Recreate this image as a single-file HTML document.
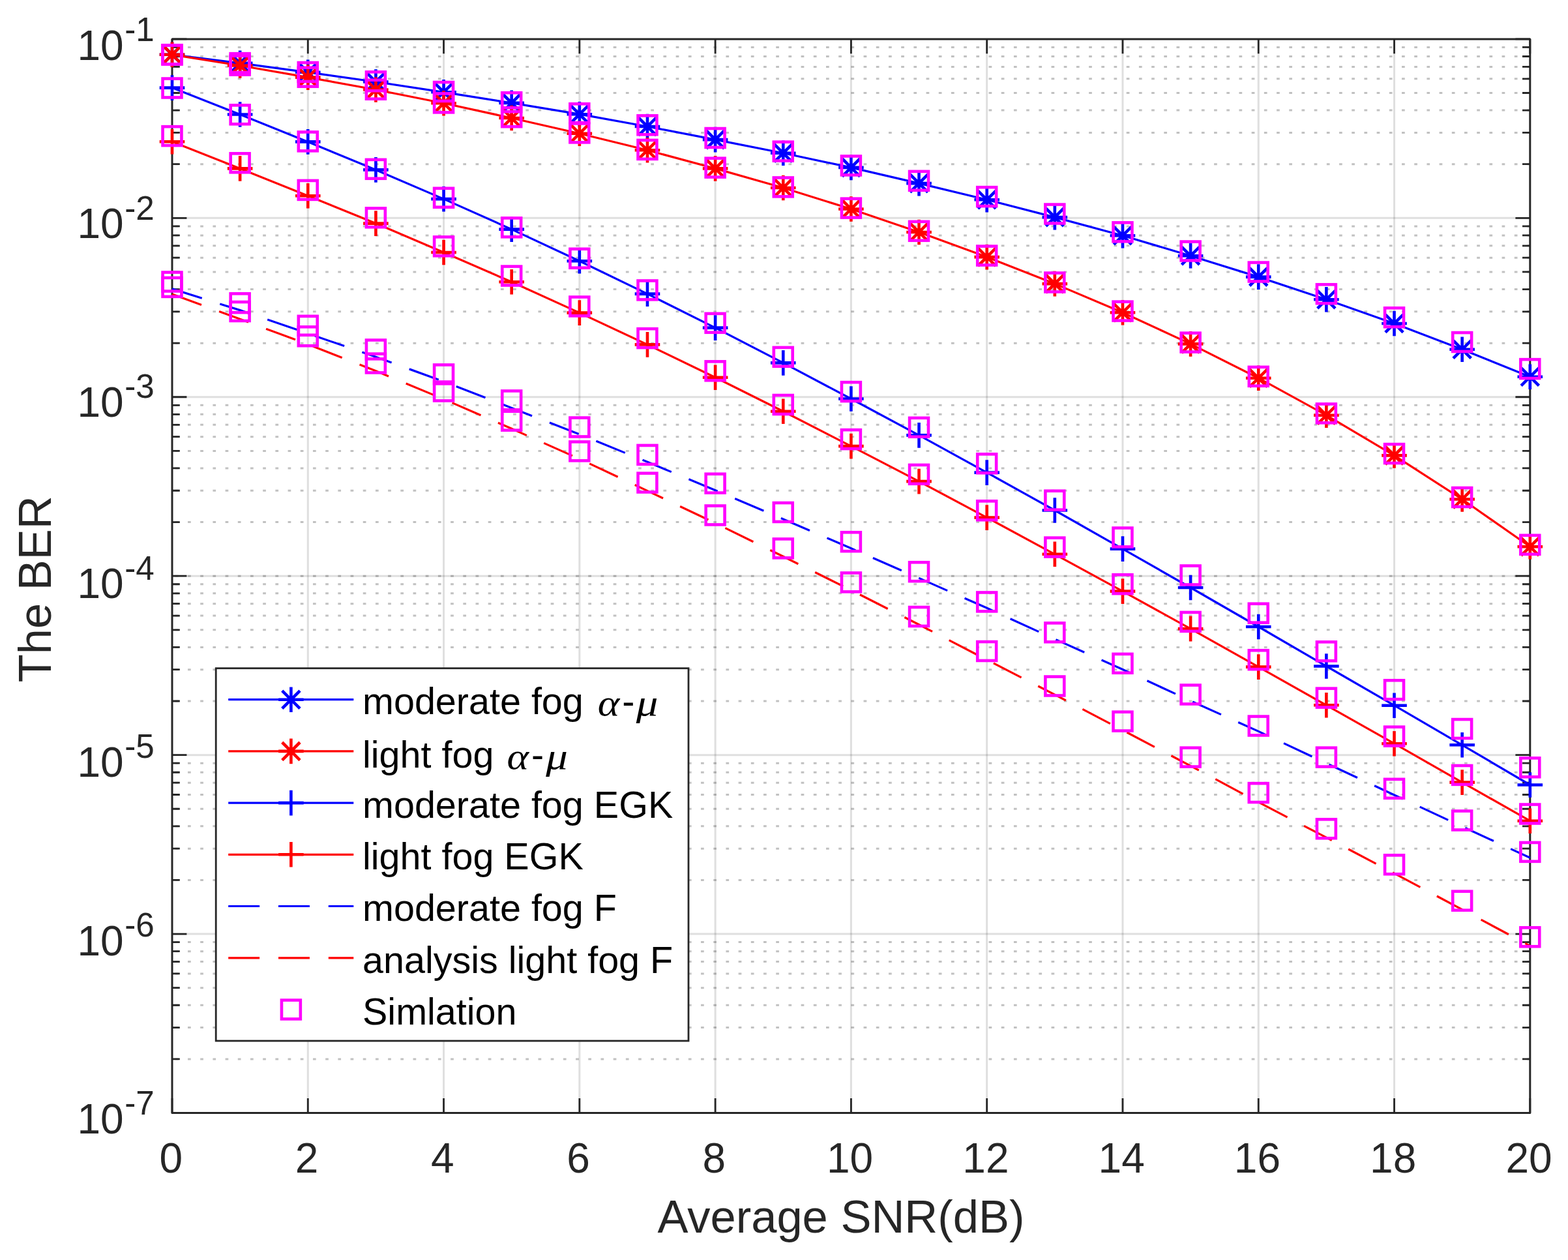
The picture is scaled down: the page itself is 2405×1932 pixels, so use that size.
<!DOCTYPE html>
<html lang="en">
<head>
<meta charset="utf-8">
<title>The BER versus Average SNR(dB)</title>
<style>
html,body{margin:0;padding:0;background:#fff;}
body{width:2405px;height:1932px;overflow:hidden;}
svg{display:block;}
text{font-family:"Liberation Sans",sans-serif;}
.tk{font-size:64px;fill:#262626;}
.ex{font-size:51.2px;fill:#262626;}
.lb{font-size:70.5px;fill:#262626;}
.lg{font-size:57.5px;fill:#000;}
.mi{font-family:"Liberation Serif","DejaVu Serif",serif;font-style:italic;font-size:56px;fill:#000;}
</style>
</head>
<body>
<svg width="2405" height="1932" viewBox="0 0 2405 1932">
<rect x="0" y="0" width="2405" height="1932" fill="#ffffff"/>
<defs>
<g id="plus"><path d="M-19.30 0H19.30M0 -19.30V19.30" fill="none" stroke-width="4.60"/></g>
<g id="ast"><path d="M-19.30 0H19.30M0 -19.30V19.30M-13.65 -13.65L13.65 13.65M-13.65 13.65L13.65 -13.65" fill="none" stroke-width="4.60"/></g>
<rect id="sq" x="-14.45" y="-14.45" width="28.90" height="28.90" fill="none" stroke="#ff00ff" stroke-width="4.60"/>
</defs>
<g id="grid" fill="none">
<path d="M264.0 72.46H2346.8M264.0 86.50H2346.8M264.0 102.41H2346.8M264.0 120.78H2346.8M264.0 142.51H2346.8M264.0 169.11H2346.8M264.0 203.40H2346.8M264.0 251.72H2346.8M264.0 346.89H2346.8M264.0 360.93H2346.8M264.0 376.84H2346.8M264.0 395.22H2346.8M264.0 416.95H2346.8M264.0 443.54H2346.8M264.0 477.83H2346.8M264.0 526.15H2346.8M264.0 621.32H2346.8M264.0 635.36H2346.8M264.0 651.28H2346.8M264.0 669.65H2346.8M264.0 691.38H2346.8M264.0 717.97H2346.8M264.0 752.26H2346.8M264.0 800.59H2346.8M264.0 895.76H2346.8M264.0 909.80H2346.8M264.0 925.71H2346.8M264.0 944.08H2346.8M264.0 965.81H2346.8M264.0 992.41H2346.8M264.0 1026.70H2346.8M264.0 1075.02H2346.8M264.0 1170.19H2346.8M264.0 1184.23H2346.8M264.0 1200.14H2346.8M264.0 1218.52H2346.8M264.0 1240.25H2346.8M264.0 1266.84H2346.8M264.0 1301.13H2346.8M264.0 1349.45H2346.8M264.0 1444.62H2346.8M264.0 1458.66H2346.8M264.0 1474.58H2346.8M264.0 1492.95H2346.8M264.0 1514.68H2346.8M264.0 1541.27H2346.8M264.0 1575.56H2346.8M264.0 1623.89H2346.8M264.0 883.20H2346.8" stroke="#1a1a1a" stroke-opacity="0.27" stroke-width="3.0" stroke-dasharray="4.700 14.496" stroke-dashoffset="-4.82"/>
<path d="M472.28 59.9V1706.5M680.56 59.9V1706.5M888.84 59.9V1706.5M1097.12 59.9V1706.5M1305.40 59.9V1706.5M1513.68 59.9V1706.5M1721.96 59.9V1706.5M1930.24 59.9V1706.5M2138.52 59.9V1706.5" stroke="#262626" stroke-opacity="0.15" stroke-width="3.0"/>
<path d="M264.0 334.33H2346.8M264.0 608.77H2346.8M264.0 883.20H2346.8M264.0 1157.63H2346.8M264.0 1432.07H2346.8" stroke="#262626" stroke-opacity="0.15" stroke-width="3.0"/>
</g>
<g id="axes" fill="none" stroke-linejoin="round" stroke="#262626" stroke-width="3.0">
<rect x="264.00" y="59.90" width="2082.80" height="1646.60"/>
<path d="M264.00 1706.50V1684.10M264.00 59.90V82.30M472.28 1706.50V1684.10M472.28 59.90V82.30M680.56 1706.50V1684.10M680.56 59.90V82.30M888.84 1706.50V1684.10M888.84 59.90V82.30M1097.12 1706.50V1684.10M1097.12 59.90V82.30M1305.40 1706.50V1684.10M1305.40 59.90V82.30M1513.68 1706.50V1684.10M1513.68 59.90V82.30M1721.96 1706.50V1684.10M1721.96 59.90V82.30M1930.24 1706.50V1684.10M1930.24 59.90V82.30M2138.52 1706.50V1684.10M2138.52 59.90V82.30M2346.80 1706.50V1684.10M2346.80 59.90V82.30M264.00 59.90H286.40M2346.80 59.90H2324.40M264.00 334.33H286.40M2346.80 334.33H2324.40M264.00 608.77H286.40M2346.80 608.77H2324.40M264.00 883.20H286.40M2346.80 883.20H2324.40M264.00 1157.63H286.40M2346.80 1157.63H2324.40M264.00 1432.07H286.40M2346.80 1432.07H2324.40M264.00 1706.50H286.40M2346.80 1706.50H2324.40M264.00 72.46H275.80M2346.80 72.46H2335.00M264.00 86.50H275.80M2346.80 86.50H2335.00M264.00 102.41H275.80M2346.80 102.41H2335.00M264.00 120.78H275.80M2346.80 120.78H2335.00M264.00 142.51H275.80M2346.80 142.51H2335.00M264.00 169.11H275.80M2346.80 169.11H2335.00M264.00 203.40H275.80M2346.80 203.40H2335.00M264.00 251.72H275.80M2346.80 251.72H2335.00M264.00 346.89H275.80M2346.80 346.89H2335.00M264.00 360.93H275.80M2346.80 360.93H2335.00M264.00 376.84H275.80M2346.80 376.84H2335.00M264.00 395.22H275.80M2346.80 395.22H2335.00M264.00 416.95H275.80M2346.80 416.95H2335.00M264.00 443.54H275.80M2346.80 443.54H2335.00M264.00 477.83H275.80M2346.80 477.83H2335.00M264.00 526.15H275.80M2346.80 526.15H2335.00M264.00 621.32H275.80M2346.80 621.32H2335.00M264.00 635.36H275.80M2346.80 635.36H2335.00M264.00 651.28H275.80M2346.80 651.28H2335.00M264.00 669.65H275.80M2346.80 669.65H2335.00M264.00 691.38H275.80M2346.80 691.38H2335.00M264.00 717.97H275.80M2346.80 717.97H2335.00M264.00 752.26H275.80M2346.80 752.26H2335.00M264.00 800.59H275.80M2346.80 800.59H2335.00M264.00 895.76H275.80M2346.80 895.76H2335.00M264.00 909.80H275.80M2346.80 909.80H2335.00M264.00 925.71H275.80M2346.80 925.71H2335.00M264.00 944.08H275.80M2346.80 944.08H2335.00M264.00 965.81H275.80M2346.80 965.81H2335.00M264.00 992.41H275.80M2346.80 992.41H2335.00M264.00 1026.70H275.80M2346.80 1026.70H2335.00M264.00 1075.02H275.80M2346.80 1075.02H2335.00M264.00 1170.19H275.80M2346.80 1170.19H2335.00M264.00 1184.23H275.80M2346.80 1184.23H2335.00M264.00 1200.14H275.80M2346.80 1200.14H2335.00M264.00 1218.52H275.80M2346.80 1218.52H2335.00M264.00 1240.25H275.80M2346.80 1240.25H2335.00M264.00 1266.84H275.80M2346.80 1266.84H2335.00M264.00 1301.13H275.80M2346.80 1301.13H2335.00M264.00 1349.45H275.80M2346.80 1349.45H2335.00M264.00 1444.62H275.80M2346.80 1444.62H2335.00M264.00 1458.66H275.80M2346.80 1458.66H2335.00M264.00 1474.58H275.80M2346.80 1474.58H2335.00M264.00 1492.95H275.80M2346.80 1492.95H2335.00M264.00 1514.68H275.80M2346.80 1514.68H2335.00M264.00 1541.27H275.80M2346.80 1541.27H2335.00M264.00 1575.56H275.80M2346.80 1575.56H2335.00M264.00 1623.89H275.80M2346.80 1623.89H2335.00" stroke-width="2.8"/>
</g>
<g id="xticks" class="tk" text-anchor="middle">
<text x="262.2" y="1797.5">0</text><text x="470.5" y="1797.5">2</text><text x="678.8" y="1797.5">4</text><text x="887.0" y="1797.5">6</text><text x="1095.3" y="1797.5">8</text><text x="1303.6" y="1797.5">10</text><text x="1511.9" y="1797.5">12</text><text x="1720.2" y="1797.5">14</text><text x="1928.4" y="1797.5">16</text><text x="2136.7" y="1797.5">18</text><text x="2345.0" y="1797.5">20</text>
</g>
<g id="yticks">
<text class="tk" x="118.5" y="92.0">10<tspan class="ex" dx="1.6" dy="-28.8">-1</tspan></text>
<text class="tk" x="118.5" y="365.3">10<tspan class="ex" dx="1.6" dy="-28.8">-2</tspan></text>
<text class="tk" x="118.5" y="638.8">10<tspan class="ex" dx="1.6" dy="-28.8">-3</tspan></text>
<text class="tk" x="118.5" y="917.4">10<tspan class="ex" dx="1.6" dy="-28.8">-4</tspan></text>
<text class="tk" x="118.5" y="1191.0">10<tspan class="ex" dx="1.6" dy="-28.8">-5</tspan></text>
<text class="tk" x="118.5" y="1464.7">10<tspan class="ex" dx="1.6" dy="-28.8">-6</tspan></text>
<text class="tk" x="118.5" y="1738.1">10<tspan class="ex" dx="1.6" dy="-28.8">-7</tspan></text>
</g>
<text class="lb" x="1008.5" y="1889.6">Average SNR(dB)</text>
<text class="lb" transform="translate(78.2,1046.3) rotate(-90)">The BER</text>
<g id="curves" fill="none" stroke-width="3.20" stroke-linejoin="round">
<path d="M264.00 83.80L368.14 96.90L472.28 110.80L576.42 125.50L680.56 141.30L784.70 157.90L888.84 175.20L992.98 194.00L1097.12 214.10L1201.26 234.70L1305.40 256.90L1409.54 281.10L1513.68 306.30L1617.82 333.10L1721.96 361.30L1826.10 392.20L1930.24 424.60L2034.38 459.30L2138.52 496.00L2242.66 535.80L2346.80 577.80" stroke="#0000ff"/>
<g stroke="#0000ff"><use href="#ast" x="264.00" y="83.80"/><use href="#ast" x="368.14" y="96.90"/><use href="#ast" x="472.28" y="110.80"/><use href="#ast" x="576.42" y="125.50"/><use href="#ast" x="680.56" y="141.30"/><use href="#ast" x="784.70" y="157.90"/><use href="#ast" x="888.84" y="175.20"/><use href="#ast" x="992.98" y="194.00"/><use href="#ast" x="1097.12" y="214.10"/><use href="#ast" x="1201.26" y="234.70"/><use href="#ast" x="1305.40" y="256.90"/><use href="#ast" x="1409.54" y="281.10"/><use href="#ast" x="1513.68" y="306.30"/><use href="#ast" x="1617.82" y="333.10"/><use href="#ast" x="1721.96" y="361.30"/><use href="#ast" x="1826.10" y="392.20"/><use href="#ast" x="1930.24" y="424.60"/><use href="#ast" x="2034.38" y="459.30"/><use href="#ast" x="2138.52" y="496.00"/><use href="#ast" x="2242.66" y="535.80"/><use href="#ast" x="2346.80" y="577.80"/></g>
<path d="M264.00 83.80L368.14 100.50L472.28 118.60L576.42 137.50L680.56 158.30L784.70 181.00L888.84 204.80L992.98 230.30L1097.12 258.40L1201.26 288.00L1305.40 320.50L1409.54 356.00L1513.68 394.10L1617.82 435.10L1721.96 479.20L1826.10 527.40L1930.24 579.70L2034.38 636.70L2138.52 698.40L2242.66 765.50L2346.80 838.30" stroke="#ff0000"/>
<g stroke="#ff0000"><use href="#ast" x="264.00" y="83.80"/><use href="#ast" x="368.14" y="100.50"/><use href="#ast" x="472.28" y="118.60"/><use href="#ast" x="576.42" y="137.50"/><use href="#ast" x="680.56" y="158.30"/><use href="#ast" x="784.70" y="181.00"/><use href="#ast" x="888.84" y="204.80"/><use href="#ast" x="992.98" y="230.30"/><use href="#ast" x="1097.12" y="258.40"/><use href="#ast" x="1201.26" y="288.00"/><use href="#ast" x="1305.40" y="320.50"/><use href="#ast" x="1409.54" y="356.00"/><use href="#ast" x="1513.68" y="394.10"/><use href="#ast" x="1617.82" y="435.10"/><use href="#ast" x="1721.96" y="479.20"/><use href="#ast" x="1826.10" y="527.40"/><use href="#ast" x="1930.24" y="579.70"/><use href="#ast" x="2034.38" y="636.70"/><use href="#ast" x="2138.52" y="698.40"/><use href="#ast" x="2242.66" y="765.50"/><use href="#ast" x="2346.80" y="838.30"/></g>
<path d="M264.00 134.60L368.14 175.50L472.28 217.40L576.42 260.40L680.56 305.10L784.70 351.60L888.84 400.30L992.98 450.60L1097.12 502.60L1201.26 556.40L1305.40 611.50L1409.54 667.40L1513.68 724.60L1617.82 782.50L1721.96 841.60L1826.10 901.00L1930.24 961.00L2034.38 1021.50L2138.52 1081.70L2242.66 1142.30L2346.80 1203.50" stroke="#0000ff"/>
<g stroke="#0000ff"><use href="#plus" x="264.00" y="134.60"/><use href="#plus" x="368.14" y="175.50"/><use href="#plus" x="472.28" y="217.40"/><use href="#plus" x="576.42" y="260.40"/><use href="#plus" x="680.56" y="305.10"/><use href="#plus" x="784.70" y="351.60"/><use href="#plus" x="888.84" y="400.30"/><use href="#plus" x="992.98" y="450.60"/><use href="#plus" x="1097.12" y="502.60"/><use href="#plus" x="1201.26" y="556.40"/><use href="#plus" x="1305.40" y="611.50"/><use href="#plus" x="1409.54" y="667.40"/><use href="#plus" x="1513.68" y="724.60"/><use href="#plus" x="1617.82" y="782.50"/><use href="#plus" x="1721.96" y="841.60"/><use href="#plus" x="1826.10" y="901.00"/><use href="#plus" x="1930.24" y="961.00"/><use href="#plus" x="2034.38" y="1021.50"/><use href="#plus" x="2138.52" y="1081.70"/><use href="#plus" x="2242.66" y="1142.30"/><use href="#plus" x="2346.80" y="1203.50"/></g>
<path d="M264.00 217.20L368.14 258.40L472.28 300.20L576.42 342.60L680.56 387.00L784.70 432.30L888.84 479.60L992.98 528.40L1097.12 578.70L1201.26 630.70L1305.40 684.10L1409.54 738.10L1513.68 793.60L1617.82 849.80L1721.96 906.60L1826.10 964.10L1930.24 1022.60L2034.38 1081.30L2138.52 1140.20L2242.66 1199.60L2346.80 1258.70" stroke="#ff0000"/>
<g stroke="#ff0000"><use href="#plus" x="264.00" y="217.20"/><use href="#plus" x="368.14" y="258.40"/><use href="#plus" x="472.28" y="300.20"/><use href="#plus" x="576.42" y="342.60"/><use href="#plus" x="680.56" y="387.00"/><use href="#plus" x="784.70" y="432.30"/><use href="#plus" x="888.84" y="479.60"/><use href="#plus" x="992.98" y="528.40"/><use href="#plus" x="1097.12" y="578.70"/><use href="#plus" x="1201.26" y="630.70"/><use href="#plus" x="1305.40" y="684.10"/><use href="#plus" x="1409.54" y="738.10"/><use href="#plus" x="1513.68" y="793.60"/><use href="#plus" x="1617.82" y="849.80"/><use href="#plus" x="1721.96" y="906.60"/><use href="#plus" x="1826.10" y="964.10"/><use href="#plus" x="1930.24" y="1022.60"/><use href="#plus" x="2034.38" y="1081.30"/><use href="#plus" x="2138.52" y="1140.20"/><use href="#plus" x="2242.66" y="1199.60"/><use href="#plus" x="2346.80" y="1258.70"/></g>
<path d="M264.00 442.90L368.14 475.60L472.28 511.30L576.42 547.30L680.56 585.00L784.70 625.50L888.84 665.90L992.98 708.30L1097.12 751.70L1201.26 796.00L1305.40 840.80L1409.54 886.40L1513.68 932.30L1617.82 979.90L1721.96 1026.50L1826.10 1074.60L1930.24 1121.40L2034.38 1170.30L2138.52 1219.00L2242.66 1267.30L2346.80 1315.30" stroke="#0000ff" stroke-dasharray="47.95 28.85"/>
<path d="M264.00 451.00L368.14 489.30L472.28 528.00L576.42 568.80L680.56 612.00L784.70 657.30L888.84 703.70L992.98 752.60L1097.12 802.10L1201.26 853.30L1305.40 904.90L1409.54 957.80L1513.68 1011.70L1617.82 1065.10L1721.96 1119.60L1826.10 1174.30L1930.24 1230.00L2034.38 1284.20L2138.52 1339.10L2242.66 1394.70L2346.80 1450.30" stroke="#ff0000" stroke-dasharray="47.95 28.85"/>
</g>
<g id="sim">
<use href="#sq" x="264.00" y="83.90"/><use href="#sq" x="368.14" y="96.60"/><use href="#sq" x="472.28" y="110.50"/><use href="#sq" x="576.42" y="124.80"/><use href="#sq" x="680.56" y="140.50"/><use href="#sq" x="784.70" y="156.70"/><use href="#sq" x="888.84" y="173.70"/><use href="#sq" x="992.98" y="191.80"/><use href="#sq" x="1097.12" y="211.50"/><use href="#sq" x="1201.26" y="232.10"/><use href="#sq" x="1305.40" y="253.90"/><use href="#sq" x="1409.54" y="277.30"/><use href="#sq" x="1513.68" y="301.60"/><use href="#sq" x="1617.82" y="328.00"/><use href="#sq" x="1721.96" y="355.80"/><use href="#sq" x="1826.10" y="385.00"/><use href="#sq" x="1930.24" y="417.00"/><use href="#sq" x="2034.38" y="450.70"/><use href="#sq" x="2138.52" y="486.70"/><use href="#sq" x="2242.66" y="524.50"/><use href="#sq" x="2346.80" y="565.60"/>
<use href="#sq" x="264.00" y="83.90"/><use href="#sq" x="368.14" y="100.10"/><use href="#sq" x="472.28" y="118.20"/><use href="#sq" x="576.42" y="137.20"/><use href="#sq" x="680.56" y="157.90"/><use href="#sq" x="784.70" y="179.70"/><use href="#sq" x="888.84" y="203.90"/><use href="#sq" x="992.98" y="229.40"/><use href="#sq" x="1097.12" y="257.10"/><use href="#sq" x="1201.26" y="286.90"/><use href="#sq" x="1305.40" y="319.10"/><use href="#sq" x="1409.54" y="354.30"/><use href="#sq" x="1513.68" y="392.00"/><use href="#sq" x="1617.82" y="433.00"/><use href="#sq" x="1721.96" y="477.10"/><use href="#sq" x="1826.10" y="525.10"/><use href="#sq" x="1930.24" y="577.30"/><use href="#sq" x="2034.38" y="633.90"/><use href="#sq" x="2138.52" y="695.60"/><use href="#sq" x="2242.66" y="762.50"/><use href="#sq" x="2346.80" y="835.30"/>
<use href="#sq" x="264.00" y="135.00"/><use href="#sq" x="368.14" y="175.80"/><use href="#sq" x="472.28" y="216.90"/><use href="#sq" x="576.42" y="259.30"/><use href="#sq" x="680.56" y="303.20"/><use href="#sq" x="784.70" y="348.80"/><use href="#sq" x="888.84" y="396.20"/><use href="#sq" x="992.98" y="444.90"/><use href="#sq" x="1097.12" y="495.30"/><use href="#sq" x="1201.26" y="547.30"/><use href="#sq" x="1305.40" y="600.60"/><use href="#sq" x="1409.54" y="655.30"/><use href="#sq" x="1513.68" y="710.80"/><use href="#sq" x="1617.82" y="767.20"/><use href="#sq" x="1721.96" y="824.00"/><use href="#sq" x="1826.10" y="882.00"/><use href="#sq" x="1930.24" y="940.20"/><use href="#sq" x="2034.38" y="998.80"/><use href="#sq" x="2138.52" y="1057.70"/><use href="#sq" x="2242.66" y="1117.50"/><use href="#sq" x="2346.80" y="1176.80"/>
<use href="#sq" x="264.00" y="208.60"/><use href="#sq" x="368.14" y="249.80"/><use href="#sq" x="472.28" y="291.40"/><use href="#sq" x="576.42" y="333.80"/><use href="#sq" x="680.56" y="377.80"/><use href="#sq" x="784.70" y="423.00"/><use href="#sq" x="888.84" y="469.90"/><use href="#sq" x="992.98" y="518.60"/><use href="#sq" x="1097.12" y="568.80"/><use href="#sq" x="1201.26" y="620.50"/><use href="#sq" x="1305.40" y="673.60"/><use href="#sq" x="1409.54" y="727.40"/><use href="#sq" x="1513.68" y="782.80"/><use href="#sq" x="1617.82" y="839.10"/><use href="#sq" x="1721.96" y="895.70"/><use href="#sq" x="1826.10" y="953.40"/><use href="#sq" x="1930.24" y="1011.70"/><use href="#sq" x="2034.38" y="1070.10"/><use href="#sq" x="2138.52" y="1129.10"/><use href="#sq" x="2242.66" y="1188.40"/><use href="#sq" x="2346.80" y="1248.00"/>
<use href="#sq" x="264.00" y="432.00"/><use href="#sq" x="368.14" y="464.70"/><use href="#sq" x="472.28" y="499.30"/><use href="#sq" x="576.42" y="535.90"/><use href="#sq" x="680.56" y="573.90"/><use href="#sq" x="784.70" y="613.90"/><use href="#sq" x="888.84" y="655.00"/><use href="#sq" x="992.98" y="697.40"/><use href="#sq" x="1097.12" y="741.20"/><use href="#sq" x="1201.26" y="785.50"/><use href="#sq" x="1305.40" y="830.70"/><use href="#sq" x="1409.54" y="876.70"/><use href="#sq" x="1513.68" y="922.90"/><use href="#sq" x="1617.82" y="969.80"/><use href="#sq" x="1721.96" y="1017.30"/><use href="#sq" x="1826.10" y="1065.00"/><use href="#sq" x="1930.24" y="1113.00"/><use href="#sq" x="2034.38" y="1161.10"/><use href="#sq" x="2138.52" y="1209.30"/><use href="#sq" x="2242.66" y="1258.00"/><use href="#sq" x="2346.80" y="1306.40"/>
<use href="#sq" x="264.00" y="440.40"/><use href="#sq" x="368.14" y="477.50"/><use href="#sq" x="472.28" y="515.70"/><use href="#sq" x="576.42" y="557.00"/><use href="#sq" x="680.56" y="600.00"/><use href="#sq" x="784.70" y="645.20"/><use href="#sq" x="888.84" y="691.90"/><use href="#sq" x="992.98" y="740.10"/><use href="#sq" x="1097.12" y="790.00"/><use href="#sq" x="1201.26" y="840.90"/><use href="#sq" x="1305.40" y="892.90"/><use href="#sq" x="1409.54" y="945.50"/><use href="#sq" x="1513.68" y="998.50"/><use href="#sq" x="1617.82" y="1052.00"/><use href="#sq" x="1721.96" y="1106.10"/><use href="#sq" x="1826.10" y="1161.10"/><use href="#sq" x="1930.24" y="1215.60"/><use href="#sq" x="2034.38" y="1270.80"/><use href="#sq" x="2138.52" y="1325.80"/><use href="#sq" x="2242.66" y="1381.20"/><use href="#sq" x="2346.80" y="1436.80"/>
</g>
<g id="legend">
<rect x="331.2" y="1024.7" width="724.8" height="571.3" fill="#ffffff" stroke="#262626" stroke-width="2.8"/>
<path d="M350.2 1072.7H542.3" fill="none" stroke="#0000ff" stroke-width="3.20"/><g stroke="#0000ff"><use href="#ast" x="446.4" y="1072.7"/></g><text class="lg" x="556.0" y="1095.2">moderate fog</text><text class="mi" x="916.65" y="1097.0" textLength="33.5" lengthAdjust="spacingAndGlyphs">α</text><text class="lg" x="954.30" y="1095.2">-</text><text class="mi" x="975.80" y="1097.1" textLength="33.6" lengthAdjust="spacingAndGlyphs">μ</text>
<path d="M350.2 1151.9H542.3" fill="none" stroke="#ff0000" stroke-width="3.20"/><g stroke="#ff0000"><use href="#ast" x="446.4" y="1151.9"/></g><text class="lg" x="556.0" y="1176.9">light fog</text><text class="mi" x="777.40" y="1178.7" textLength="33.5" lengthAdjust="spacingAndGlyphs">α</text><text class="lg" x="814.90" y="1176.9">-</text><text class="mi" x="837.20" y="1178.8" textLength="33.6" lengthAdjust="spacingAndGlyphs">μ</text>
<path d="M350.2 1231.1H542.3" fill="none" stroke="#0000ff" stroke-width="3.20"/><g stroke="#0000ff"><use href="#plus" x="446.4" y="1231.1"/></g><text class="lg" x="556.0" y="1253.8">moderate fog EGK</text>
<path d="M350.2 1310.3H542.3" fill="none" stroke="#ff0000" stroke-width="3.20"/><g stroke="#ff0000"><use href="#plus" x="446.4" y="1310.3"/></g><text class="lg" x="556.0" y="1333.0">light fog EGK</text>
<path d="M350.2 1389.5H542.3" fill="none" stroke="#0000ff" stroke-width="3.20" stroke-dasharray="47.95 28.85"/><text class="lg" x="556.0" y="1412.3">moderate fog F</text>
<path d="M350.2 1468.8H542.3" fill="none" stroke="#ff0000" stroke-width="3.20" stroke-dasharray="47.95 28.85"/><text class="lg" x="556.0" y="1491.5">analysis light fog F</text>
<use href="#sq" x="446.4" y="1548.0"/><text class="lg" x="556.0" y="1570.7">Simlation</text>
</g>
</svg>
</body>
</html>
